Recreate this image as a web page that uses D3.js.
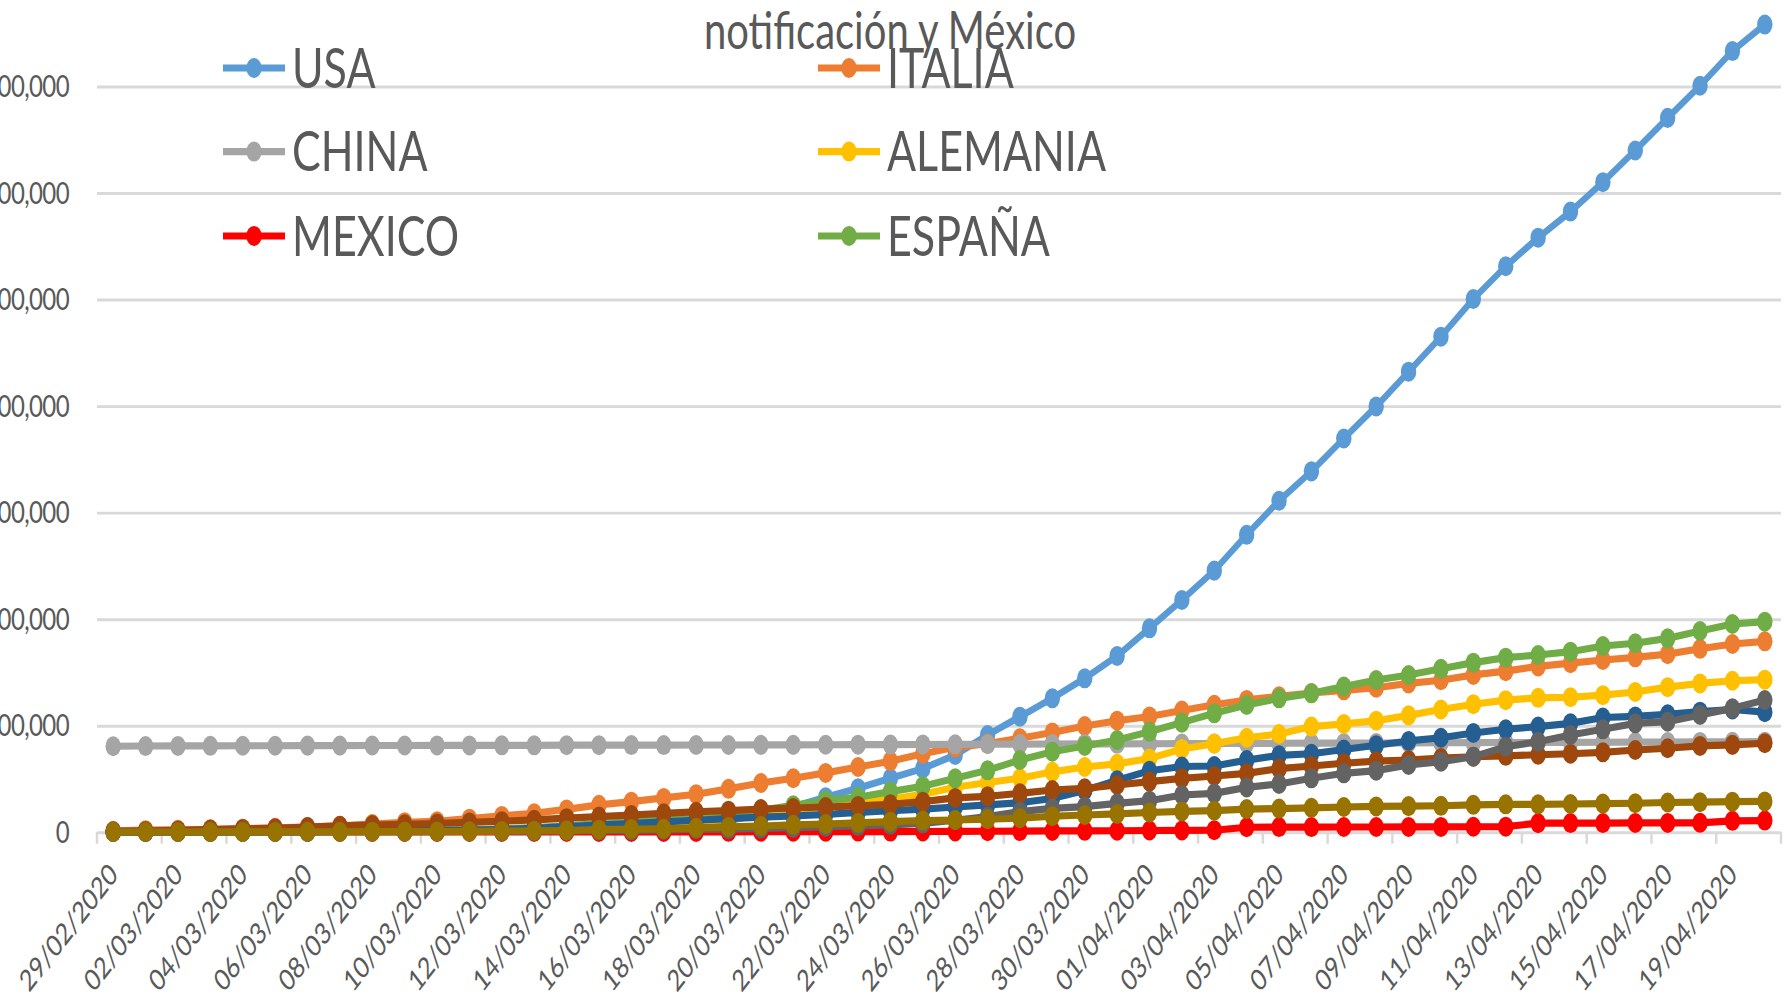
<!DOCTYPE html>
<html>
<head>
<meta charset="utf-8">
<script src="https://cdn.jsdelivr.net/npm/d3@7"></script>
<style>
  body { margin: 0; background: #fff; }
  text { font-family: Lato, 'Open Sans', sans-serif; fill: #595959; }
</style>
</head>
<body>
<div class="container"></div>
<script>
const dates = [
  '29/02/2020', '01/03/2020', '02/03/2020', '03/03/2020', '04/03/2020', '05/03/2020', '06/03/2020',
  '07/03/2020', '08/03/2020', '09/03/2020', '10/03/2020', '11/03/2020', '12/03/2020', '13/03/2020',
  '14/03/2020', '15/03/2020', '16/03/2020', '17/03/2020', '18/03/2020', '19/03/2020', '20/03/2020',
  '21/03/2020', '22/03/2020', '23/03/2020', '24/03/2020', '25/03/2020', '26/03/2020', '27/03/2020',
  '28/03/2020', '29/03/2020', '30/03/2020', '31/03/2020', '01/04/2020', '02/04/2020', '03/04/2020',
  '04/04/2020', '05/04/2020', '06/04/2020', '07/04/2020', '08/04/2020', '09/04/2020', '10/04/2020',
  '11/04/2020', '12/04/2020', '13/04/2020', '14/04/2020', '15/04/2020', '16/04/2020', '17/04/2020',
  '18/04/2020', '19/04/2020', '20/04/2020'
];

const yTicks = [0, 100000, 200000, 300000, 400000, 500000, 600000, 700000];

const usa = [70, 70, 100, 120, 150, 220, 320, 430, 550, 700,
  1000, 1300, 1700, 2200, 2700, 3500, 4600, 6400, 7800, 10500,
  17000, 23800, 32600, 41000, 50400, 59500, 72300, 91000, 108300, 125500,
  144300, 165300, 191200, 217800, 245400, 279000, 311000, 338600, 369500, 399600,
  432200, 465100, 500400, 531200, 558000, 582500, 610100, 639900, 670500, 700700,
  733200, 758100];
const italia = [1100, 1700, 2000, 2500, 3100, 3900, 4600, 5900, 7400, 9200,
  10100, 12500, 15100, 17600, 21200, 25500, 28500, 32000, 35500, 40500,
  46000, 50500, 55500, 61000, 66500, 73500, 79500, 83000, 88000, 93500,
  99500, 104500, 108500, 114000, 119500, 124000, 127500, 130500, 133000, 135500,
  139500, 142500, 147500, 151000, 155500, 158500, 161500, 164000, 167000, 172000,
  176500, 179000];
const china = [80500, 80700, 80800, 80900, 81000, 81000, 81100, 81100, 81200, 81200,
  81300, 81300, 81400, 81400, 81500, 81500, 81600, 81600, 81700, 81700,
  81800, 81800, 81900, 82000, 82100, 82200, 82300, 82400, 82500, 82600,
  82700, 82800, 82900, 83000, 83100, 83200, 83300, 83400, 83500, 83600,
  83700, 83800, 83900, 84000, 84100, 84200, 84300, 84400, 84500, 84600,
  84700, 84800];
const alemania = [80, 130, 160, 200, 260, 480, 670, 800, 1000, 1200,
  1500, 1900, 2400, 3100, 3700, 4800, 5800, 7300, 9300, 12300,
  15300, 19800, 24500, 28000, 31000, 35500, 42000, 46500, 50500, 56500,
  61000, 64000, 69000, 78000, 83000, 88500, 92000, 99000, 101500, 104500,
  109500, 115000, 120000, 123800, 126000, 126500, 128500, 131500, 136000, 139500,
  142000, 143000];
const mexico = [0, 4, 5, 5, 5, 5, 6, 7, 7, 7,
  7, 8, 12, 15, 26, 41, 53, 82, 93, 164,
  203, 251, 316, 367, 405, 475, 585, 717, 848, 993,
  1094, 1215, 1378, 1510, 1688, 4500, 4600, 4600, 4700, 4700,
  4800, 4800, 4900, 5000, 8300, 8400, 8400, 8500, 8500, 8600,
  10500, 10700];
const espana = [45, 66, 114, 151, 198, 257, 374, 430, 589, 1000,
  1600, 2100, 2950, 4200, 5800, 7800, 9900, 11800, 13900, 17200,
  20400, 25000, 29400, 32600, 37900, 43000, 50400, 57900, 67600, 75400,
  80800, 86400, 94200, 102700, 111400, 119200, 125500, 130200, 136500, 142700,
  147400, 153200, 159000, 163700, 166200, 169300, 174600, 177200, 181800, 188700,
  195300, 197500];
// series without a legend entry in the picture
const azulOscuro = [60, 100, 130, 190, 210, 290, 420, 610, 710, 1100,
  1400, 1800, 2300, 3500, 5000, 6500, 8000, 9500, 11000, 12500,
  14000, 15000, 16500, 18300, 20000, 21500, 23500, 25500, 27500, 31500,
  39000, 48500, 57500, 61500, 62000, 67500, 72000, 73500, 77500, 81500,
  85500, 88500, 93000, 96500, 99000, 102000, 107500, 108500, 110500, 113000,
  115000, 112500];
const cafe = [600, 1000, 1500, 2300, 2900, 3500, 4700, 5800, 6600, 7200,
  8000, 9000, 10100, 11400, 13000, 14500, 16000, 17500, 19000, 20000,
  21500, 22500, 23500, 24500, 26000, 28500, 32000, 33500, 36300, 39400,
  41000, 44100, 47300, 50400, 52600, 55000, 59500, 62000, 64500, 66500,
  67500, 69500, 70700, 71500, 72500, 73500, 74800, 77000, 78600, 80800,
  81800, 83300];
const grisOscuro = [20, 30, 40, 50, 90, 115, 160, 210, 270, 320,
  380, 460, 590, 800, 1100, 1400, 1550, 1950, 2600, 2700,
  3300, 4000, 5000, 5700, 6700, 8100, 11000, 14400, 19100, 22200,
  23800, 26900, 29400, 34700, 36300, 41900, 45100, 50400, 55100, 57600,
  63000, 66000, 70700, 80100, 84800, 91100, 96400, 102000, 103600, 109900,
  116100, 123900];
const olivo = [20, 30, 40, 50, 60, 90, 210, 270, 340, 370,
  490, 650, 860, 1140, 1360, 2200, 2700, 3000, 3900, 4800,
  5600, 6700, 7500, 8500, 9700, 10700, 11300, 12000, 13000, 14800,
  16000, 17000, 18300, 19300, 20000, 21500, 22000, 22700, 23500, 24000,
  24300, 24600, 25500, 26000, 26000, 26300, 26700, 27000, 27700, 28000,
  28500, 28700];

const series = [
  { name: 'USA', values: usa, color: '#5b9bd5', legend: true },
  { name: 'ITALIA', values: italia, color: '#ed7d31', legend: true },
  { name: 'CHINA', values: china, color: '#a5a5a5', legend: true },
  { name: 'ALEMANIA', values: alemania, color: '#ffc000', legend: true },
  { name: 'MEXICO', values: mexico, color: '#ff0000', legend: true },
  { name: 'ESPAÑA', values: espana, color: '#70ad47', legend: true },
  { name: 'azulOscuro', values: azulOscuro, color: '#255e91', legend: false },
  { name: 'cafe', values: cafe, color: '#9e480e', legend: false },
  { name: 'grisOscuro', values: grisOscuro, color: '#636363', legend: false },
  { name: 'olivo', values: olivo, color: '#997300', legend: false }
];

const width = 1787;
const height = 1003;
const stretch = 1.3; // the picture is pulled taller than it is wide
const left = 97;
const right = 1781;
const lineWidth = 5.5;
const markerR = 7.7;

const svg = d3
  .select('.container')
  .append('svg')
  .attr('width', width)
  .attr('height', height);

const chart = svg.append('g').attr('transform', `scale(1, ${stretch})`);

const x = d3.scaleBand().domain(dates).range([left, right]).padding(0);
const y = d3.scaleLinear().domain([0, 700000]).range([640, 66.5]);
const cx = d => x(d) + x.bandwidth() / 2;

// grid lines and y labels
chart
  .append('g')
  .attr('class', 'y-axis')
  .attr('transform', `translate(${left}, 0)`)
  .call(
    d3.axisLeft(y)
      .tickValues(yTicks)
      .tickFormat(d3.format(','))
      .tickSize(-(right - left))
      .tickPadding(28)
  )
  .call(g => g.attr('font-family', null).attr('font-size', null))
  .call(g => g.select('.domain').remove())
  .call(g => g.selectAll('line').attr('stroke', '#d9d9d9').attr('stroke-width', 2.3))
  .call(g => g.selectAll('text').attr('font-size', 24).attr('letter-spacing', -0.6));

// tick marks every two days, on the category edges
const edges = dates.filter((d, i) => i % 2 === 0).map(d => x(d)).concat([x(dates[dates.length - 1]) + x.bandwidth()]);
chart
  .append('g')
  .attr('class', 'x-ticks')
  .selectAll('line')
  .data(edges)
  .enter()
  .append('line')
  .attr('x1', d => d)
  .attr('x2', d => d)
  .attr('y1', y(0))
  .attr('y2', y(0) + 9)
  .attr('stroke', '#d9d9d9')
  .attr('stroke-width', 2.5);

// x labels
chart
  .append('g')
  .attr('class', 'x-axis')
  .attr('transform', `translate(0, ${y(0)})`)
  .call(d3.axisBottom(x).tickValues(dates.filter((d, i) => i % 2 === 0)).tickSize(0))
  .call(g => g.attr('font-family', null).attr('font-size', null))
  .call(g => g.select('.domain').remove())
  .call(g =>
    g.selectAll('text')
      .attr('font-size', 23)
      .attr('y', 0)
      .attr('dy', 0)
      .attr('text-anchor', 'end')
      .attr('transform', 'translate(6, 34) rotate(-45)')
  );

// lines and markers, series by series
const line = d3
  .line()
  .x((d, i) => cx(dates[i]))
  .y(d => y(d));

series.forEach(s => {
  const g = chart.append('g').attr('class', 'serie');
  g.append('path')
    .attr('d', line(s.values))
    .attr('fill', 'none')
    .attr('stroke', s.color)
    .attr('stroke-width', lineWidth)
    .attr('stroke-linejoin', 'round');
  g.selectAll('circle')
    .data(s.values)
    .enter()
    .append('circle')
    .attr('cx', (d, i) => cx(dates[i]))
    .attr('cy', d => y(d))
    .attr('r', markerR)
    .attr('fill', s.color);
});

// legend
const legendCols = [223, 818];
const legendRows = [52.3, 116.6, 181.5];
const legend = chart
  .append('g')
  .attr('class', 'legend')
  .selectAll('g')
  .data(series.filter(s => s.legend))
  .enter()
  .append('g')
  .attr('transform', (d, i) => `translate(${legendCols[i % 2]}, ${legendRows[Math.floor(i / 2)]})`);

legend
  .append('line')
  .attr('x1', 0)
  .attr('x2', 62)
  .attr('stroke', d => d.color)
  .attr('stroke-width', lineWidth);

legend
  .append('circle')
  .attr('cx', 31)
  .attr('r', markerR)
  .attr('fill', d => d.color);

legend
  .append('text')
  .attr('x', 69)
  .attr('dy', '0.35em')
  .attr('font-size', 43)
  .text(d => d.name);

// title (its first line is outside the picture)
chart
  .append('text')
  .attr('x', 890)
  .attr('y', 38)
  .attr('text-anchor', 'middle')
  .attr('font-size', 40)
  .text('notificación y México');
</script>
</body>
</html>
